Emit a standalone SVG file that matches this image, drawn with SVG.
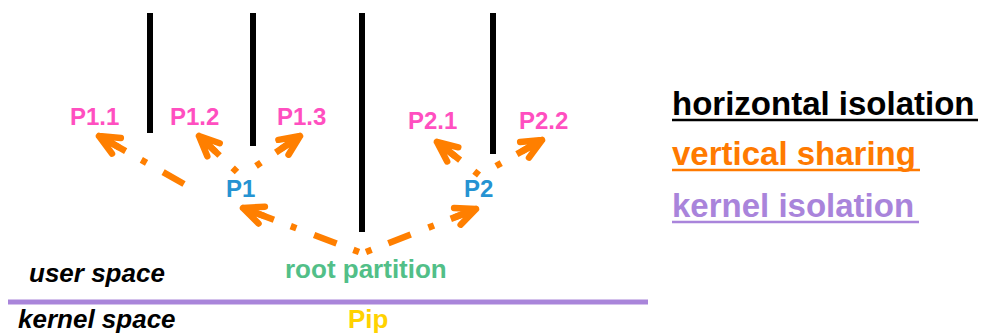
<svg xmlns="http://www.w3.org/2000/svg" width="982" height="336" viewBox="0 0 982 336">
  <style>
    text { font-family: "Liberation Sans", Arial, sans-serif; font-weight: bold; }
    .leaf { fill: #FF4FC0; font-size: 24px; }
    .mid { fill: #2593D2; font-size: 24px; }
    .root { fill: #52BF88; font-size: 26px; }
    .pip { fill: #FFD200; font-size: 26px; }
    .space { fill: #000; font-size: 26px; font-style: italic; }
    .legend { font-size: 33px; }
    .wall { stroke: #000; stroke-width: 6; fill: none; }
    .share { stroke: #FF7F00; stroke-width: 6.5; fill: none; stroke-dasharray: 6 18 24 19; }
    .ul { stroke-width: 2.5; }
  </style>
  <defs>
    <marker id="head" markerUnits="userSpaceOnUse" markerWidth="40" markerHeight="40" viewBox="-30 -20 40 40" refX="0" refY="0" orient="auto" overflow="visible">
      <path d="M -20 -9 L 0 0 L -20 9 M 0 0 L -22 0" fill="none" stroke="#FF7F00" stroke-width="6.5" stroke-linecap="round" stroke-linejoin="round"/>
    </marker>
  </defs>

  <g id="walls">
    <line class="wall" x1="150" y1="13" x2="150" y2="133"/>
    <line class="wall" x1="253" y1="13" x2="253" y2="146"/>
    <line class="wall" x1="362" y1="13" x2="362" y2="232"/>
    <line class="wall" x1="493" y1="13" x2="493" y2="154"/>
  </g>

  <g id="kernel-boundary">
    <line x1="8" y1="302" x2="648" y2="302" stroke="#A985DA" stroke-width="5"/>
  </g>

  <g id="connectors">
    <path class="share" d="M 359 252 L 243 208" marker-end="url(#head)"/>
    <path class="share" d="M 366 252 L 476 209" marker-end="url(#head)"/>
    <path class="share" style="stroke-dashoffset:24" d="M 184 184 L 99 136" marker-end="url(#head)"/>
    <path class="share" d="M 237 172 L 199 136" marker-end="url(#head)"/>
    <path class="share" d="M 256 166 L 300 136" marker-end="url(#head)"/>
    <path class="share" d="M 479 175 L 437 142" marker-end="url(#head)"/>
    <path class="share" d="M 496 166 L 542 140" marker-end="url(#head)"/>
  </g>

  <g id="P1.1"><text class="leaf" x="70" y="125">P1.1</text></g>
  <g id="P1.2"><text class="leaf" x="170" y="125">P1.2</text></g>
  <g id="P1.3"><text class="leaf" x="277" y="125">P1.3</text></g>
  <g id="P2.1"><text class="leaf" x="408" y="129">P2.1</text></g>
  <g id="P2.2"><text class="leaf" x="519" y="129">P2.2</text></g>
  <g id="P1"><text class="mid" x="226" y="197">P1</text></g>
  <g id="P2"><text class="mid" x="464" y="197">P2</text></g>
  <g id="root-partition"><text class="root" x="285" y="278">root partition</text></g>
  <g id="Pip"><text class="pip" x="348" y="328">Pip</text></g>
  <g id="user-space"><text class="space" x="29" y="282">user space</text></g>
  <g id="kernel-space"><text class="space" x="18" y="328">kernel space</text></g>

  <g id="legend">
    <text class="legend" x="672" y="115" fill="#000">horizontal isolation</text>
    <line class="ul" x1="672" y1="120" x2="978" y2="120" stroke="#000"/>
    <text class="legend" x="672" y="165" fill="#FF7A00">vertical sharing</text>
    <line class="ul" x1="672" y1="170" x2="920" y2="170" stroke="#FF7A00"/>
    <text class="legend" x="672" y="217" fill="#A984DB">kernel isolation</text>
    <line class="ul" x1="672" y1="222" x2="919" y2="222" stroke="#A984DB"/>
  </g>
</svg>
